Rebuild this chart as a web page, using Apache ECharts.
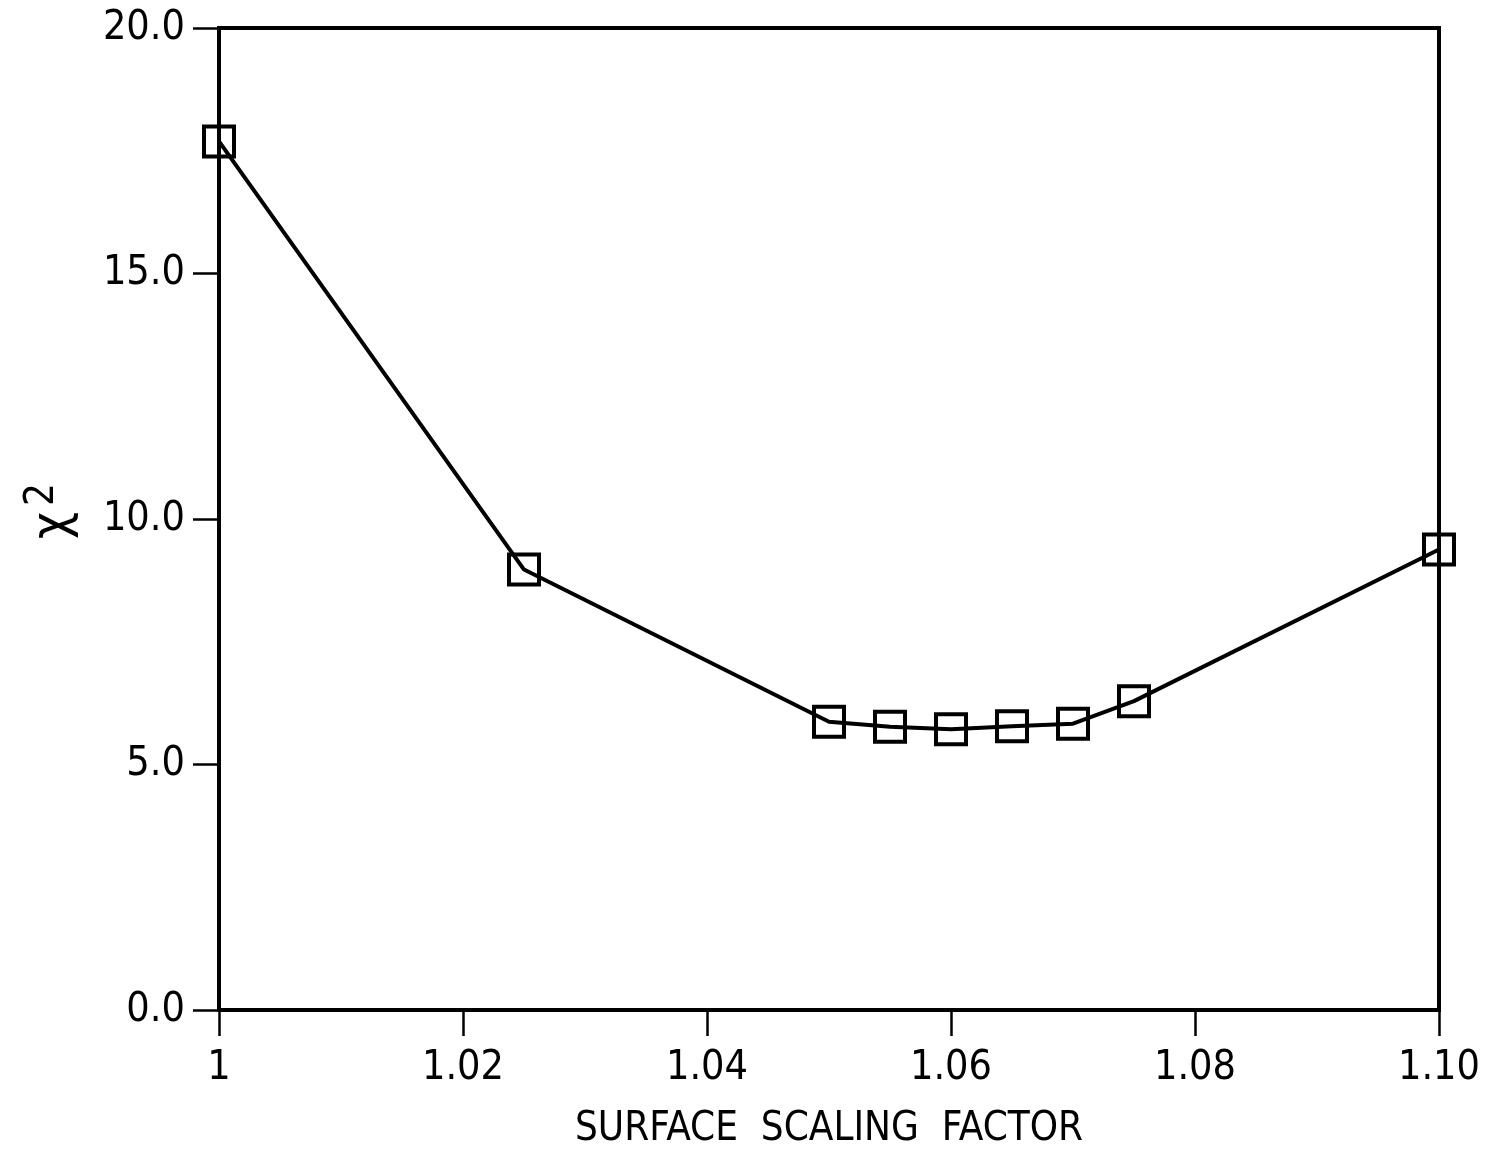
<!DOCTYPE html>
<html>
<head>
<meta charset="utf-8">
<title>Chi-square vs surface scaling factor</title>
<script src="https://cdn.jsdelivr.net/npm/echarts@6/dist/echarts.min.js"></script>
<style>
  html, body { margin: 0; padding: 0; background: #ffffff; }
  #chart { width: 1488px; height: 1155px; }
</style>
</head>
<body>
<div id="chart"></div>
<script>
// Surface scaling factor values and the chi-square found at each
const scalingFactors = [1.000, 1.025, 1.050, 1.055, 1.060, 1.065, 1.070, 1.075, 1.100];
const chiSquare = [17.69, 8.97, 5.87, 5.77, 5.72, 5.78, 5.83, 6.29, 9.38];

// Tick labels
const xTickLabels = { '1.00': '1', '1.02': '1.02', '1.04': '1.04', '1.06': '1.06', '1.08': '1.08', '1.10': '1.10' };
const yTickLabels = { '0': '0.0', '5': '5.0', '10': '10.0', '15': '15.0', '20': '20.0' };

const FONT = "'DejaVu Sans Condensed', 'Liberation Sans Narrow', 'Liberation Sans', sans-serif";

const chart = echarts.init(document.getElementById('chart'), null, { renderer: 'canvas' });

chart.setOption({
  backgroundColor: '#ffffff',
  animation: false,
  grid: {
    left: 219,
    top: 28,
    width: 1220,
    height: 984,
    show: true,
    borderColor: '#000000',
    borderWidth: 4,
    backgroundColor: 'transparent'
  },
  xAxis: {
    type: 'value',
    min: 1.0,
    max: 1.10,
    interval: 0.02,
    name: 'SURFACE  SCALING  FACTOR',
    nameLocation: 'middle',
    nameGap: 100,
    nameTextStyle: { fontFamily: FONT, fontSize: 40, color: '#000000' },
    axisLine: { show: true, lineStyle: { color: '#000000', width: 4 } },
    axisTick: { show: true, inside: false, length: 26, lineStyle: { color: '#000000', width: 2.5 } },
    axisLabel: {
      margin: 38,
      fontFamily: FONT,
      fontSize: 41,
      color: '#000000',
      formatter: function (v) {
        const key = Number(v).toFixed(2);
        return xTickLabels[key] !== undefined ? xTickLabels[key] : key;
      }
    },
    splitLine: { show: false }
  },
  yAxis: {
    type: 'value',
    min: 0,
    max: 20,
    interval: 5,
    name: '{chi|χ}{sup|2}',
    nameLocation: 'middle',
    nameRotate: 90,
    nameGap: 140,
    nameTextStyle: {
      color: '#000000',
      padding: [0, 0, 0, 16],
      rich: {
        chi: { fontFamily: FONT, fontSize: 52, color: '#000000', verticalAlign: 'bottom' },
        sup: { fontFamily: FONT, fontSize: 40, color: '#000000', verticalAlign: 'bottom', padding: [0, 0, 16, 6] }
      }
    },
    axisLine: { show: true, lineStyle: { color: '#000000', width: 4 } },
    axisTick: { show: true, inside: false, length: 26, lineStyle: { color: '#000000', width: 2.5 } },
    axisLabel: {
      margin: 34,
      fontFamily: FONT,
      fontSize: 41,
      color: '#000000',
      formatter: function (v) {
        const key = String(Math.round(v));
        return yTickLabels[key] !== undefined ? yTickLabels[key] : String(v);
      }
    },
    splitLine: { show: false }
  },
  series: [{
    type: 'line',
    data: scalingFactors.map((x, i) => [x, chiSquare[i]]),
    smooth: false,
    symbol: 'rect',
    symbolSize: 30,
    showAllSymbol: true,
    clip: false,
    lineStyle: { color: '#000000', width: 4 },
    itemStyle: { color: 'transparent', borderColor: '#000000', borderWidth: 4 },
    z: 3
  }]
});
</script>
</body>
</html>
